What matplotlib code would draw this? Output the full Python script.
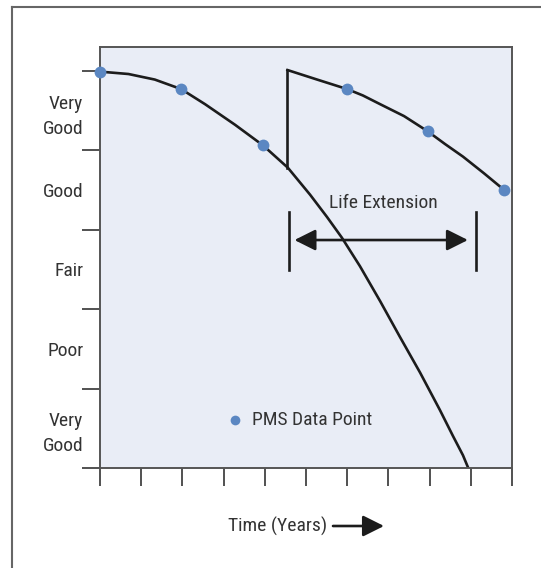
"""Pavement condition deterioration curve with life extension."""

import matplotlib
matplotlib.use("Agg")
import matplotlib.pyplot as plt
from matplotlib import font_manager
from matplotlib.lines import Line2D
from matplotlib.patches import FancyArrowPatch

# --- data ---
CONDITION_LABELS = ["Very\nGood", "Poor", "Fair", "Good", "Very\nGood"]  # bottom -> top
LABEL_POS = [0.5, 1.5, 2.5, 3.5, 4.5]
YEAR_TICKS = list(range(0, 11))

# original deterioration curve
curve1_x = [0.0, 0.69, 1.33, 1.97, 2.55, 3.28, 3.96, 4.56, 5.10, 5.51, 5.87, 6.31,
            6.80, 7.28, 7.77, 8.25, 8.57, 8.81, 8.93]
curve1_y = [4.99, 4.96, 4.89, 4.77, 4.58, 4.32, 4.06, 3.78, 3.44, 3.16, 2.90, 2.54,
            2.10, 1.65, 1.20, 0.73, 0.40, 0.16, 0.01]

# treatment jump + extended curve
jump_x = [4.55, 4.55]
jump_y = [3.78, 5.01]
curve2_x = [4.55, 5.27, 6.0, 6.38, 6.80, 7.38, 7.95, 8.37, 8.81, 9.32, 9.81]
curve2_y = [5.01, 4.89, 4.77, 4.69, 4.58, 4.43, 4.24, 4.08, 3.92, 3.71, 3.50]

# PMS data points
pms_x = [0.0, 1.97, 3.96, 6.0, 7.95, 9.81]
pms_y = [4.99, 4.77, 4.06, 4.77, 4.24, 3.50]

# life extension span
ext_start, ext_end = 4.58, 9.13
ext_y, ext_bar_lo, ext_bar_hi = 2.87, 2.49, 3.22

LINE = "#1c1c1c"
DOT = "#5b87c2"
FACE = "#e9edf6"
TEXT = "#333333"

names = {f.name for f in font_manager.fontManager.ttflist}
FONT = "DejaVu Sans"
for cand in ["Roboto Condensed", "Archivo Narrow", "PT Sans Narrow", "Asap Condensed", "Barlow Condensed"]:
    if cand in names:
        FONT = cand
        break
plt.rcParams["font.family"] = [FONT, "DejaVu Sans"]
FS = 14

fig = plt.figure(figsize=(5.41, 5.68), dpi=100)
ax = fig.add_axes([100 / 541, 100 / 568, 412 / 541, 421 / 568])
ax.set_facecolor(FACE)
ax.set_xlim(0, 10)
ax.set_ylim(0, 5.30)

line_kw = dict(color=LINE, lw=1.9, zorder=2, solid_joinstyle="round")
ax.plot(curve1_x, curve1_y, **line_kw)
ax.plot(jump_x, jump_y, **line_kw)
ax.plot(curve2_x, curve2_y, **line_kw)
ax.plot(pms_x, pms_y, "o", color=DOT, ms=8.5, mec="none", zorder=3, clip_on=False)

# life extension bars + double arrow
for xb in (ext_start, ext_end):
    ax.plot([xb, xb], [ext_bar_lo, ext_bar_hi], color=LINE, lw=1.9)
ax.annotate("", xy=(ext_end - 0.2, ext_y), xytext=(ext_start + 0.14, ext_y),
            arrowprops=dict(arrowstyle="<|-|>,head_length=0.8,head_width=0.4",
                            color=LINE, lw=1.9, shrinkA=0, shrinkB=0,
                            mutation_scale=16))
ax.text(6.87, 3.34, "Life Extension", ha="center", va="center", fontsize=FS, color=TEXT)

# legend
ax.plot([3.28], [0.60], "o", color=DOT, ms=7, mec="none")
ax.text(3.69, 0.60, "PMS Data Point", ha="left", va="center", fontsize=FS, color=TEXT)

# axes styling
for s in ax.spines.values():
    s.set_color("#555555")
    s.set_linewidth(1.4)
ax.set_xticks(YEAR_TICKS)
ax.set_xticklabels([])
ax.set_yticks(range(0, 6))
ax.set_yticklabels([])
ax.set_yticks(LABEL_POS, minor=True)
ax.set_yticklabels(CONDITION_LABELS, minor=True, fontsize=FS, color=TEXT, linespacing=1.5)
ax.tick_params(axis="both", which="major", direction="out", length=13, width=1.2, color="#333333")
ax.tick_params(axis="y", which="minor", length=0, pad=12)

# x label with arrow
fig.text(278 / 541, 1 - 526 / 568, "Time (Years)", ha="center", va="center", fontsize=FS, color=TEXT)
fig.add_artist(FancyArrowPatch(
    (333 / 541, 1 - 526 / 568), (384 / 541, 1 - 526 / 568), transform=fig.transFigure,
    arrowstyle="-|>,head_length=0.8,head_width=0.4", mutation_scale=16,
    color=LINE, lw=1.9, shrinkA=0, shrinkB=0))

# outer frame (top and left edges visible)
fig.add_artist(Line2D([11.5 / 541, 1.0], [1 - 6.5 / 568] * 2, transform=fig.transFigure,
                      color="#666666", lw=1.5))
fig.add_artist(Line2D([11.5 / 541] * 2, [0.0, 1 - 6.5 / 568], transform=fig.transFigure,
                      color="#666666", lw=1.5))

fig.savefig("out.png", dpi=100)
